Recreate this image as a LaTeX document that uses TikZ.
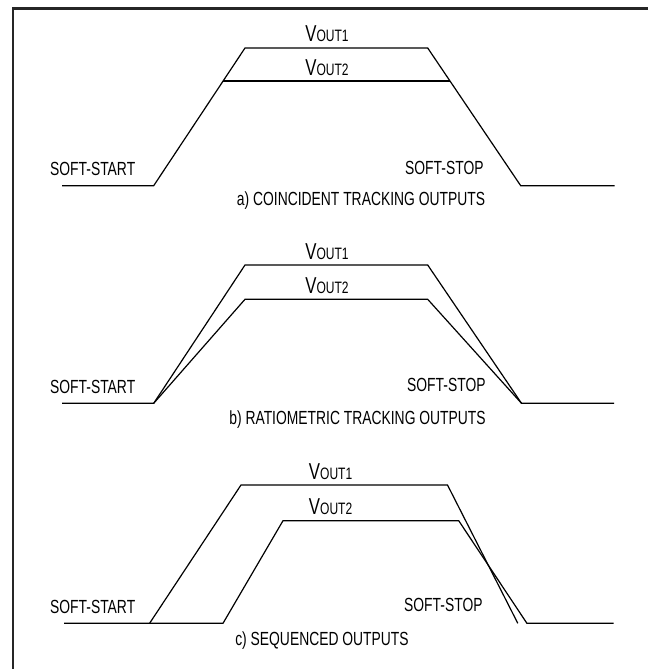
\documentclass[tikz,border=0pt]{standalone}
\usepackage{fontspec}
\setmainfont{Liberation Sans}[FakeStretch=0.73]
\usepackage{tikz}

\newcommand{\voutlbl}[1]{{\fontsize{23}{23}\selectfont V}{\fontsize{16.5}{16.5}\selectfont OUT#1}}

\begin{document}
\begin{tikzpicture}[x=1pt,y=-1pt,
    wave/.style={line width=1.2pt, line join=miter},
    lbl/.style={inner sep=0pt, font=\fontsize{19}{22}\selectfont},
    vlbl/.style={inner sep=0pt, anchor=base}]
    \useasboundingbox (0,0) rectangle (648,669);

    % Frame
    \draw[line width=2.4pt, black!85] (12.7,669) -- (12.7,8.5) -- (648,8.5);

    % a) coincident tracking
    \draw[wave] (62,185.7) -- (153.7,185.7) -- (245,48) -- (427.7,48) -- (520.7,185.7) -- (614.5,185.7);
    \draw[wave] (223.1,81) -- (450,81);
    \node[vlbl] (a1) at (327,41.5) {\voutlbl{1}};
    \node[vlbl] (a2) at (327,75.5) {\voutlbl{2}};
    \node[lbl, anchor=base west] (astart) at (50,175.5) {SOFT-START};
    \node[lbl, anchor=base west] (astop) at (405,174) {SOFT-STOP};
    \node[lbl, anchor=base] (acap) at (361,205) {a) COINCIDENT TRACKING OUTPUTS};

    % b) ratiometric tracking
    \draw[wave] (62,403.3) -- (153.7,403.3) -- (245,265) -- (427.7,265) -- (521.5,403.3) -- (614,403.3);
    \draw[wave] (153.7,403.3) -- (245,299.3) -- (427.7,299.3) -- (521.5,403.3);
    \node[vlbl] (b1) at (327,259) {\voutlbl{1}};
    \node[vlbl] (b2) at (327,293.5) {\voutlbl{2}};
    \node[lbl, anchor=base west] (bstart) at (50,393) {SOFT-START};
    \node[lbl, anchor=base west] (bstop) at (407,391.6) {SOFT-STOP};
    \node[lbl, anchor=base] (bcap) at (357.5,424) {b) RATIOMETRIC TRACKING OUTPUTS};

    % c) sequenced
    \draw[wave] (149.6,623.3) -- (241,485) -- (447.5,485) -- (517.8,623.3);
    \draw[wave] (64,623.3) -- (223,623.3) -- (283,520.7) -- (458.7,520.7) -- (526.9,623.3) -- (613.6,623.3);
    \node[vlbl] (c1) at (330.6,479) {\voutlbl{1}};
    \node[vlbl] (c2) at (330.6,514.5) {\voutlbl{2}};
    \node[lbl, anchor=base west] (cstart) at (50,613) {SOFT-START};
    \node[lbl, anchor=base west] (cstop) at (404,611.6) {SOFT-STOP};
    \node[lbl, anchor=base] (ccap) at (322,645.5) {c) SEQUENCED OUTPUTS};
\end{tikzpicture}
\end{document}
